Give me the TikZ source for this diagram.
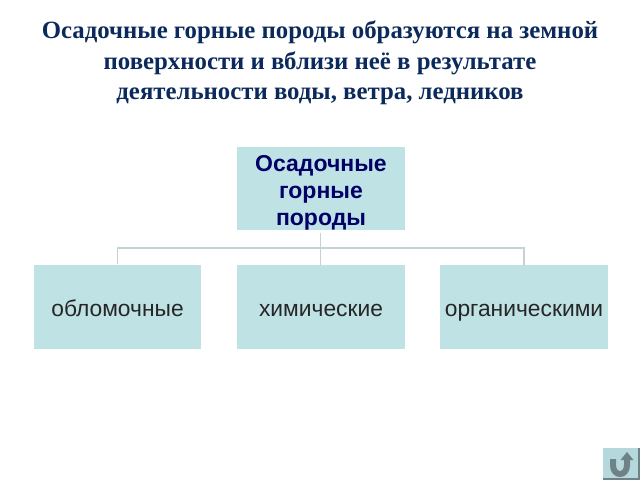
\documentclass[tikz,border=0pt]{standalone}
\usepackage{fontspec}
\setmainfont{Liberation Serif}
\newfontfamily\boxfont{Liberation Sans}
\definecolor{boxfill}{HTML}{BFE2E5}
\definecolor{navytext}{HTML}{000066}
\definecolor{titletext}{HTML}{0B2A5B}
\definecolor{linkcol}{HTML}{C4D2D5}
\definecolor{btnfill}{HTML}{B5D8DC}
\definecolor{btndark}{HTML}{6F8285}
\tikzset{
  boxbase/.style={fill=boxfill,draw=none,minimum width=167.5pt,minimum height=83.5pt,inner sep=0pt},
  lvlbox/.style={boxbase,text height=25pt,text depth=6pt,font=\boxfont\fontsize{22.8}{27}\selectfont,text=black!85},
  topbox/.style={boxbase,align=center,text=navytext,font=\boxfont\bfseries\fontsize{23}{27}\selectfont},
  titletxt/.style={align=center,text=titletext,font=\bfseries\fontsize{24.8}{30.5}\selectfont},
  link/.style={draw=linkcol,line width=1.2pt}
}
\begin{document}
\begin{tikzpicture}[x=1pt,y=-1pt]
\useasboundingbox (0,0) rectangle (640,480);
\node[titletxt] (title) at (320,63) {Осадочные горные породы образуются на земной\\поверхности и вблизи неё в результате\\деятельности воды, ветра, ледников};
\node[topbox] (top) at (321,188.5) {\rule{0pt}{25pt}Осадочные\\горные\\породы};
\node[lvlbox] (a) at (117.5,307) {обломочные};
\node[lvlbox] (b) at (321,307) {химические};
\node[lvlbox] (c) at (524,307) {органическими};
\coordinate (j) at (320.5,248);
\draw[link] (top.south -| j) ++(0,2) -- (b.north -| j);
\draw[link] (a.north) ++(0,-1) |- (j) -| ([yshift=-1pt]c.north);
% return button
\fill[btnfill] (602.5,448) rectangle (640,480);
\fill[btndark] (637.5,448) rectangle (640,480);
\fill[btndark] (602.5,477.5) rectangle (640,480);
\draw[btndark,line width=6pt] (613,459) -- (613,465) .. controls (613,477) and (627,477) .. (627,465) -- (627,458);
\fill[btndark] (620.5,460) -- (627,452) -- (633.5,460) -- cycle;
\end{tikzpicture}
\end{document}
